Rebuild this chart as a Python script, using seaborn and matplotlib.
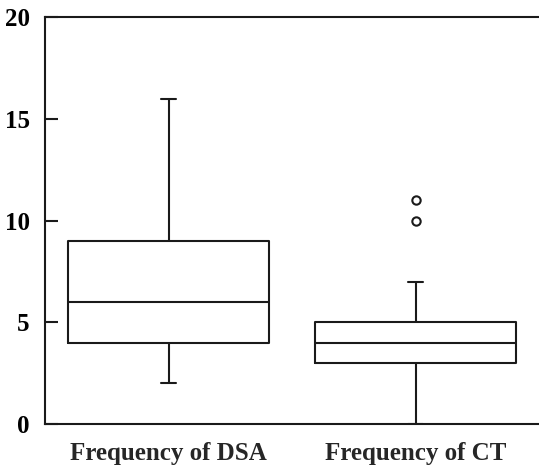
import matplotlib
matplotlib.use("Agg")
import matplotlib.pyplot as plt
import seaborn as sns
import pandas as pd

# Observations reconstructed to reproduce the box statistics seen in the chart
categories = ["Frequency of DSA", "Frequency of CT"]
dsa_values = [2, 4, 6, 9, 16]
ct_values = [0, 3, 3, 3, 4, 4, 4, 4, 5, 5, 7, 10, 11]
y_ticks = [0, 5, 10, 15, 20]

df = pd.DataFrame({
    "group": [categories[0]] * len(dsa_values) + [categories[1]] * len(ct_values),
    "value": dsa_values + ct_values,
})

sns.set_style("white")
plt.rcParams["font.family"] = ["Liberation Serif", "DejaVu Serif"]
plt.rcParams["font.weight"] = "bold"

fig = plt.figure(figsize=(5.39, 4.69), dpi=100)
ax = fig.add_axes([0.0835, 0.096, 0.9165, 0.867])

line_c = "#1a1a1a"
sns.boxplot(
    data=df, x="group", y="value", order=categories, ax=ax,
    width=0.81, fill=False, color=line_c, linewidth=1.5, whis=1.5,
    capwidths=0.06,
    flierprops=dict(marker="o", markersize=6, markerfacecolor="none",
                    markeredgecolor=line_c, markeredgewidth=1.5),
    medianprops=dict(color=line_c, linewidth=1.5),
)

ax.set_xlim(-0.5, 1.5)
ax.set_ylim(0, 20)
ax.set_yticks(y_ticks)
ax.set_yticklabels([str(t) for t in y_ticks], fontsize=18, fontweight="bold")
ax.tick_params(axis="y", direction="in", length=9, width=1.5, pad=11, left=True, colors=line_c, labelcolor="black")
ax.tick_params(axis="x", length=0, pad=13, labelsize=18)
for lab in ax.get_xticklabels():
    lab.set_fontweight("bold")
ax.set_xlabel("")
ax.set_ylabel("")
for s in ["left", "top", "bottom"]:
    ax.spines[s].set_visible(True)
    ax.spines[s].set_color(line_c)
    ax.spines[s].set_linewidth(1.5)
ax.spines["right"].set_visible(False)

fig.savefig("out.png", dpi=100)
